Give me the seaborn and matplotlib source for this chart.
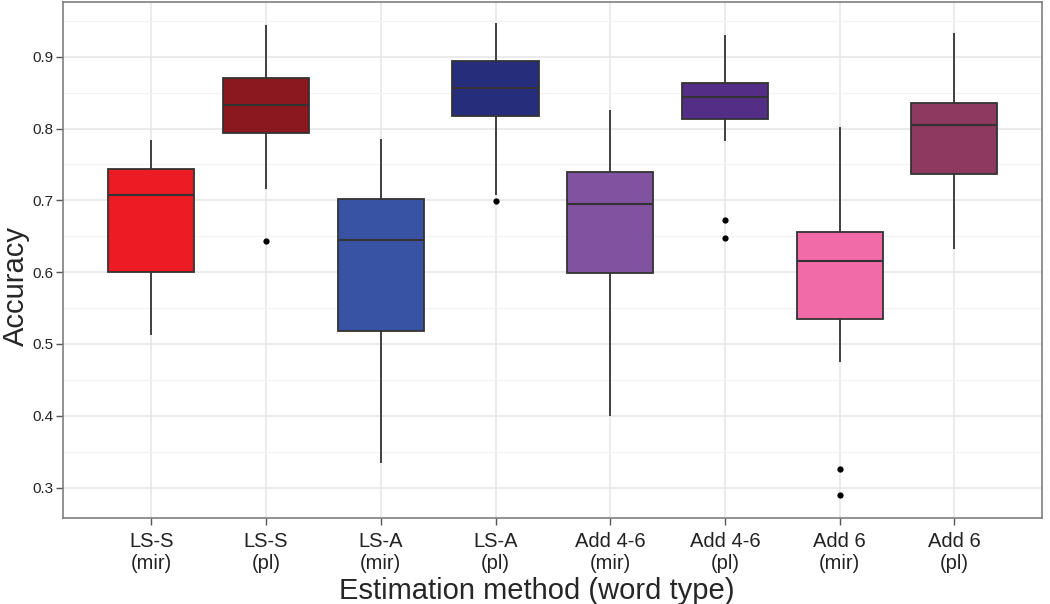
import matplotlib
matplotlib.use("Agg")
import matplotlib.pyplot as plt
import seaborn as sns
import pandas as pd
import numpy as np

# box summary (low whisker, Q1, median, Q3, high whisker)
labels = ["LS-S\n(mir)", "LS-S\n(pl)", "LS-A\n(mir)", "LS-A\n(pl)",
          "Add 4-6\n(mir)", "Add 4-6\n(pl)", "Add 6\n(mir)", "Add 6\n(pl)"]
whisker_lo = [0.512, 0.716, 0.334, 0.708, 0.399, 0.783, 0.475, 0.632]
q1 = [0.600, 0.794, 0.518, 0.818, 0.599, 0.813, 0.535, 0.737]
median = [0.708, 0.833, 0.645, 0.856, 0.695, 0.844, 0.616, 0.805]
q3 = [0.744, 0.870, 0.702, 0.894, 0.739, 0.863, 0.656, 0.836]
whisker_hi = [0.784, 0.944, 0.786, 0.947, 0.826, 0.930, 0.802, 0.933]

outlier_labels = ["LS-S\n(pl)", "LS-A\n(pl)", "Add 4-6\n(pl)", "Add 4-6\n(pl)",
                  "Add 6\n(mir)", "Add 6\n(mir)"]
outlier_values = [0.644, 0.699, 0.672, 0.647, 0.326, 0.290]

colors = ["#ED1C24", "#8A181E", "#3853A4", "#262E7B",
          "#8152A0", "#542D87", "#F06BA8", "#8E3A60"]

# five points per group give exactly these quartiles
rows = []
for i, lab in enumerate(labels):
    for v in (whisker_lo[i], q1[i], median[i], q3[i], whisker_hi[i]):
        rows.append({"method": lab, "accuracy": v})
df = pd.DataFrame(rows)
out_df = pd.DataFrame({"method": outlier_labels, "accuracy": outlier_values})

sns.set_style("white")
plt.rcParams["font.family"] = ["Liberation Sans", "DejaVu Sans"]

fig = plt.figure(figsize=(10.5, 6.04), dpi=100)
ax = fig.add_axes([0.06, 0.1429, 0.932, 0.8546])

sns.boxplot(data=df, x="method", y="accuracy", hue="method", order=labels,
            hue_order=labels, palette=colors, legend=False, whis=(0, 100),
            showfliers=False, showcaps=False, width=0.75, linecolor="#333333",
            linewidth=1.3, saturation=1, ax=ax,
            medianprops={"color": "#333333", "linewidth": 1.5}, zorder=3)
sns.stripplot(data=out_df, x="method", y="accuracy", order=labels, jitter=False,
              color="black", size=4.5, ax=ax, zorder=4)

ax.set_xlim(-0.77, 7.76)
ax.set_ylim(0.258, 0.977)
ax.set_yticks([0.3, 0.4, 0.5, 0.6, 0.7, 0.8, 0.9])
ax.set_yticklabels(["0.3", "0.4", "0.5", "0.6", "0.7", "0.8", "0.9"])
ax.set_yticks(np.arange(0.35, 0.96, 0.1), minor=True)

ax.grid(True, which="major", color="#E6E6E6", linewidth=1.1, zorder=0)
ax.grid(True, which="minor", axis="y", color="#F3F3F3", linewidth=0.9, zorder=0)
ax.set_axisbelow(True)

for s in ax.spines.values():
    s.set_color("#7F7F7F")
    s.set_linewidth(1.2)

ax.tick_params(axis="y", which="major", length=5, width=1, color="#555555",
               labelsize=11, pad=2, labelcolor="#222222", left=True)
ax.tick_params(axis="y", which="minor", length=0)
ax.tick_params(axis="x", length=5, width=1, color="#555555", labelsize=14.5,
               pad=5, labelcolor="#222222", bottom=True)
for t in ax.get_xticklabels():
    t.set_linespacing(1.2)

ax.set_xlabel("Estimation method (word type)", fontsize=21)
ax.set_ylabel("Accuracy", fontsize=21)
ax.xaxis.set_label_coords(0.484, -0.115)
ax.yaxis.set_label_coords(-0.034, 0.449)

fig.savefig("out.png", dpi=100)
